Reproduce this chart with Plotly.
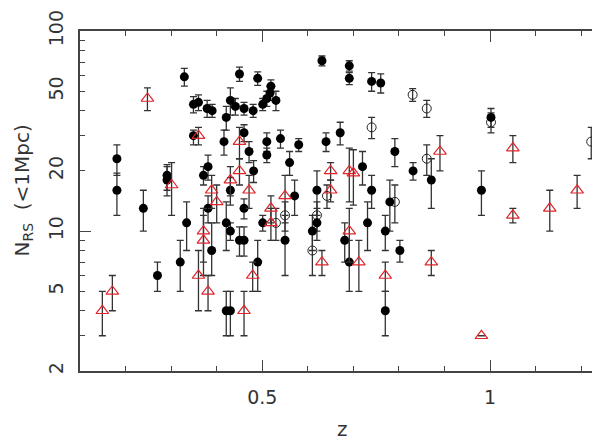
"""Red-sequence richness versus redshift, log-scaled counts with error bars."""

import plotly.graph_objects as go

# filled black circles
z_filled = [0.181, 0.181, 0.239, 0.270, 0.291, 0.291, 0.320, 0.329, 0.334, 0.349,
            0.360, 0.349, 0.371, 0.381, 0.379, 0.390, 0.381, 0.389, 0.416, 0.421,
            0.421, 0.430, 0.441, 0.430, 0.430, 0.421, 0.430, 0.450, 0.460, 0.460,
            0.460, 0.460, 0.450, 0.471, 0.480, 0.481, 0.490, 0.490, 0.501, 0.501,
            0.510, 0.510, 0.519, 0.517, 0.510, 0.530, 0.540, 0.560, 0.580, 0.571,
            0.550, 0.620, 0.620, 0.610, 0.631, 0.640, 0.671, 0.691, 0.691, 0.720,
            0.681, 0.691, 0.731, 0.740, 0.760, 0.740, 0.780, 0.770, 0.770, 0.791,
            0.802, 0.831, 0.871, 0.981, 1.002]
n_filled = [23, 16, 13, 6, 19, 18, 7, 59, 11, 43,
            44, 30, 19, 21, 41, 40, 13, 8, 28, 37,
            11, 45, 42, 16, 10, 4, 4, 61, 41, 31,
            13, 9, 9, 25, 40, 20, 7, 58, 43, 11,
            28, 24, 53, 49, 46, 45, 29, 22, 27, 15,
            9, 16, 11, 10, 71, 28, 31, 67, 58, 21,
            9, 7, 11, 56, 55, 16, 14, 10, 4, 25,
            8, 20, 18, 16, 37]
up_filled = [4, 3.5, 3, 1, 2.5, 3, 2, 6, 3, 4,
             4, 2, 2, 3, 4, 3, 2, 3, 4, 5,
             3, 7, 4, 2.5, 1, 1, 1, 5, 3, 3,
             1.5, 1.5, 1.5, 3, 3, 2.5, 2, 4.5, 3, 1,
             3, 2, 4, 4, 4, 5, 3, 3, 2, 3,
             3, 4, 2, 2, 4, 3, 4, 4, 4, 4,
             2, 2, 3, 6, 6, 3, 4, 2, 1, 4,
             1, 2, 5, 4, 4]
dn_filled = [4, 4, 3, 1, 3, 3, 2, 6, 3, 4,
             4, 3, 2, 3, 4, 3, 2, 2, 4, 5,
             3, 7, 4, 2.5, 1, 1, 1, 5, 3, 3,
             1.5, 1.5, 1.5, 3, 3, 2.5, 2, 4.5, 3, 1,
             3, 2, 4, 4, 4, 5, 3, 3, 2, 3,
             3, 4, 2, 2, 4, 3, 4, 4, 4, 4,
             2, 2, 3, 6, 6, 3, 4, 2, 1, 4,
             1, 2, 5, 4, 4]

# red open triangles
z_tri = [0.149, 0.171, 0.248, 0.301, 0.360, 0.371, 0.371, 0.360, 0.381, 0.389,
         0.400, 0.430, 0.450, 0.450, 0.471, 0.479, 0.460, 0.519, 0.519, 0.550,
         0.650, 0.650, 0.631, 0.691, 0.700, 0.691, 0.712, 0.770, 0.890, 0.871,
         0.981, 1.050, 1.050, 1.131, 1.191]
n_tri = [4, 5, 46, 17, 30, 10, 9, 6, 5, 16,
         14, 18, 28, 20, 16, 6, 4, 13, 11, 15,
         16, 20, 7, 20, 19.5, 10, 7, 6, 25, 7,
         3, 26, 12, 13, 16]
err_tri = [1, 1, 6, 5, 3, 3, 3, 2, 1, 3,
           3, 3, 5, 3, 3, 1, 1, 2, 2, 4,
           2, 2, 1, 6, 6, 3, 2, 1, 5, 1,
           0, 4, 1, 3, 3]

# open black circles
z_open = [0.830, 0.861, 0.740, 0.861, 1.002, 1.222, 0.550, 0.530, 0.620, 0.610,
          0.642, 0.791]
n_open = [48, 41, 33, 23, 35, 28, 12, 11, 12, 8,
          15, 14]
err_open = [3.5, 4, 4, 4, 4, 5, 2, 2, 2, 2,
            2, 3]

X_RANGE = [0.1, 1.25]
Y_TICKS = [2, 5, 10, 20, 50, 100]
Y_MINOR = [3, 4, 6, 7, 8, 9, 30, 40, 60, 70, 80, 90]

AXIS_COLOUR = "#444444"
BAR_COLOUR = "#333333"
RED = "#e0252b"
FONT = "DejaVu Sans"

fig = go.Figure()

fig.add_trace(
    go.Scatter(
        x=z_open,
        y=n_open,
        mode="markers",
        marker=dict(symbol="circle-open", size=9, color="#222222", line=dict(width=1)),
        error_y=dict(type="data", array=err_open, color=BAR_COLOUR, thickness=1.3, width=3.5),
        showlegend=False,
    )
)
fig.add_trace(
    go.Scatter(
        x=z_filled,
        y=n_filled,
        mode="markers",
        marker=dict(symbol="circle", size=9, color="black"),
        error_y=dict(
            type="data",
            symmetric=False,
            array=up_filled,
            arrayminus=dn_filled,
            color=BAR_COLOUR,
            thickness=1.3,
            width=3.5,
        ),
        showlegend=False,
    )
)
fig.add_trace(
    go.Scatter(
        x=z_tri,
        y=n_tri,
        mode="markers",
        marker=dict(symbol="triangle-up-open", size=11, color=RED, line=dict(width=1.2)),
        error_y=dict(type="data", array=err_tri, color=BAR_COLOUR, thickness=1.3, width=3.5),
        showlegend=False,
    )
)
# empty trace so the overlay axis carrying the long decade ticks gets drawn
fig.add_trace(go.Scatter(x=[], y=[], yaxis="y2", showlegend=False))

fig.update_layout(
    width=600,
    height=441,
    margin=dict(l=72, r=2, t=21, b=78),
    plot_bgcolor="white",
    paper_bgcolor="white",
    font=dict(family=FONT, size=19, color="#333333"),
    xaxis=dict(
        range=X_RANGE,
        tick0=0,
        dtick=0.5,
        ticks="inside",
        ticklen=11,
        tickcolor=AXIS_COLOUR,
        minor=dict(dtick=0.1, ticks="inside", ticklen=5, tickcolor=AXIS_COLOUR),
        showline=True,
        linecolor=AXIS_COLOUR,
        linewidth=1.5,
        mirror="ticks",
        showgrid=False,
        zeroline=False,
        ticklabelstandoff=8,
    ),
    yaxis=dict(
        type="log",
        range=[0.30103, 2],
        tickmode="array",
        tickvals=Y_TICKS,
        ticktext=[str(v) for v in Y_TICKS],
        tickangle=-90,
        ticks="inside",
        ticklen=5,
        tickcolor=AXIS_COLOUR,
        minor=dict(tickmode="array", tickvals=Y_MINOR, ticks="inside", ticklen=5,
                   tickcolor=AXIS_COLOUR),
        showline=True,
        linecolor=AXIS_COLOUR,
        linewidth=1.5,
        mirror="ticks",
        showgrid=False,
        zeroline=False,
        ticklabelstandoff=8,
    ),
    yaxis2=dict(
        type="log",
        overlaying="y",
        range=[0.30103, 2],
        tickmode="array",
        tickvals=[10],
        ticks="inside",
        ticklen=11,
        tickcolor=AXIS_COLOUR,
        showticklabels=False,
        mirror="ticks",
        showgrid=False,
        zeroline=False,
    ),
    annotations=[
        dict(
            text="N<sub>RS</sub>  (&lt;1Mpc)",
            textangle=-90,
            xref="paper",
            yref="paper",
            x=-0.108,
            y=0.532,
            xanchor="center",
            yanchor="middle",
            showarrow=False,
            font=dict(size=20),
        ),
        dict(
            text="z",
            xref="paper",
            yref="paper",
            x=0.5,
            y=-0.213,
            xanchor="center",
            yanchor="bottom",
            showarrow=False,
            font=dict(size=20),
        ),
    ],
)

fig.write_html("out.html")
